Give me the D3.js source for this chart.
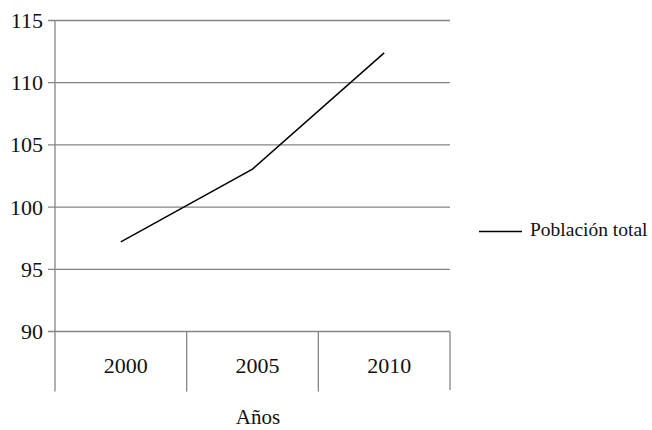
<!DOCTYPE html>
<html>
<head>
<meta charset="utf-8">
<script src="https://cdn.jsdelivr.net/npm/d3@7"></script>
<style>
  body { margin: 0; background: #fff; }
  svg { display: block; }
</style>
</head>
<body>
<svg id="chart" width="652" height="430"></svg>
<script>
// Población total (millones) por año
const years = ["2000", "2005", "2010"];
const poblacion = [97.2, 103.06, 112.4];
const yTicks = [90, 95, 100, 105, 110, 115];
const seriesName = "Población total";
const xTitle = "Años";

const serif = '"Liberation Serif"';
const svg = d3.select("#chart");
const plotLeft = 55, plotRight = 450, plotTop = 20.5, plotBottom = 331.5, axisBottom = 391.5;
const gridColor = "#858585";
const textColor = "#111";

const x = d3.scaleBand().domain(years).range([plotLeft, plotRight]).padding(0);
const y = d3.scaleLinear().domain([90, 115]).range([plotBottom, plotTop]);

// horizontal gridlines with short ticks on the left
const grid = svg.append("g");
grid.selectAll("line.h").data(yTicks).join("line")
  .attr("x1", plotLeft - 7).attr("x2", plotRight)
  .attr("y1", d => y(d)).attr("y2", d => y(d))
  .attr("stroke", gridColor).attr("stroke-width", 1.3);

// y axis line
grid.append("line")
  .attr("x1", plotLeft).attr("x2", plotLeft)
  .attr("y1", plotTop).attr("y2", axisBottom)
  .attr("stroke", gridColor).attr("stroke-width", 1.3);

// category separators below the plot
const seps = years.map(d => x(d) + x.bandwidth());
grid.selectAll("line.sep").data(seps).join("line")
  .attr("x1", d => d).attr("x2", d => d)
  .attr("y1", plotBottom).attr("y2", (d, i) => i === seps.length - 1 ? axisBottom - 1.5 : axisBottom)
  .attr("stroke", gridColor).attr("stroke-width", 1.3);

// y tick labels
svg.append("g").selectAll("text").data(yTicks).join("text")
  .attr("x", 43).attr("y", d => y(d))
  .attr("dy", "0.34em")
  .attr("text-anchor", "end")
  .attr("font-size", 22)
  .attr("fill", textColor)
  .style("font-family", serif)
  .text(d => d);

// category labels
svg.append("g").selectAll("text").data(years).join("text")
  .attr("x", d => x(d) + x.bandwidth() / 2 + 5)
  .attr("y", 373)
  .attr("text-anchor", "middle")
  .attr("font-size", 22)
  .attr("fill", textColor)
  .style("font-family", serif)
  .text(d => d);

// axis title
svg.append("text")
  .attr("x", x("2005") + x.bandwidth() / 2 + 5.5)
  .attr("y", 424)
  .attr("text-anchor", "middle")
  .attr("font-size", 21)
  .attr("fill", textColor)
  .style("font-family", serif)
  .text(xTitle);

// series line
const line = d3.line()
  .x((d, i) => x(years[i]) + x.bandwidth() / 2)
  .y(d => y(d));
svg.append("path")
  .datum(poblacion)
  .attr("d", line)
  .attr("fill", "none")
  .attr("stroke", "#000")
  .attr("stroke-width", 1.5);

// legend
const lg = svg.append("g").attr("transform", "translate(479,231.5)");
lg.append("line").attr("x1", 0).attr("x2", 43).attr("y1", 0).attr("y2", 0)
  .attr("stroke", "#000").attr("stroke-width", 1.5);
lg.append("text").attr("x", 51).attr("y", 4.5)
  .attr("font-size", 19.5)
  .attr("fill", textColor)
  .style("font-family", serif)
  .text(seriesName);
</script>
</body>
</html>
